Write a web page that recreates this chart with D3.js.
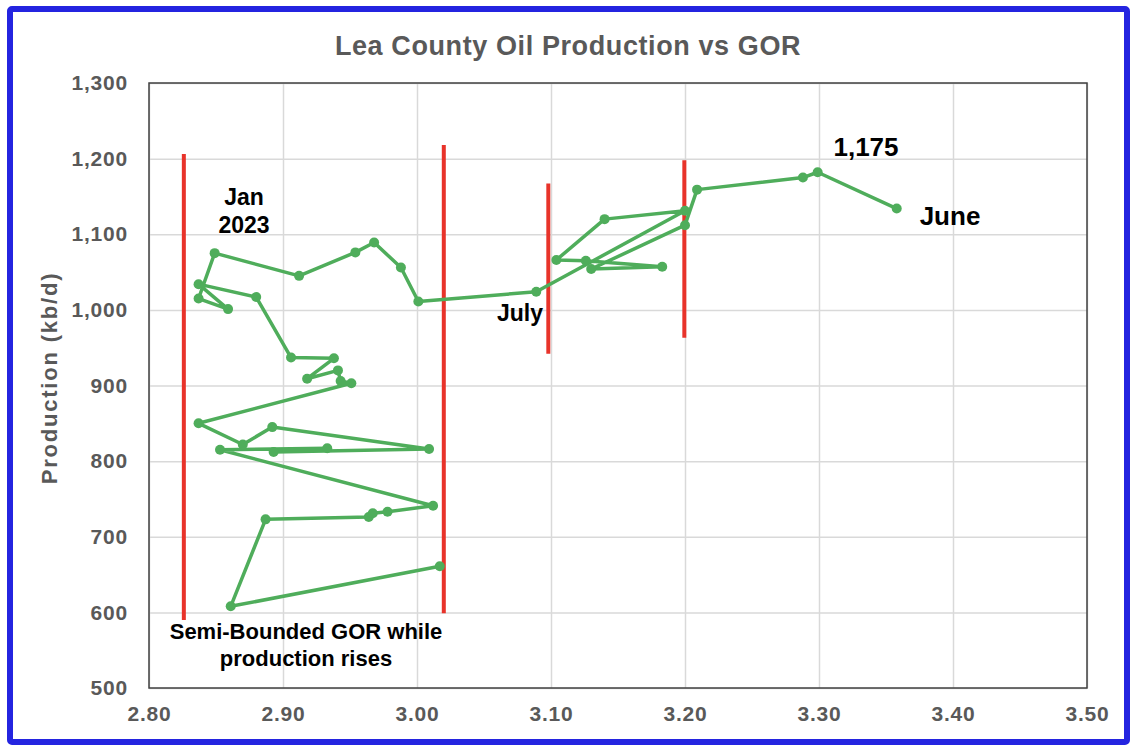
<!DOCTYPE html>
<html>
<head>
<meta charset="utf-8">
<script src="https://cdn.jsdelivr.net/npm/d3@7"></script>
<style>
  body { margin: 0; background: #fff; }
  text { font-family: "Liberation Sans", Arial, sans-serif; }
  .axis-number { font-size: 21px; font-weight: bold; fill: #595959; letter-spacing: 0.8px; }
  .note { font-weight: bold; fill: #000; }
</style>
</head>
<body>
<div id="canvas"></div>
<script>
"use strict";

/* Data, Jan 2021 .. Jun 2024 in month order */
let gor = [
  3.017, 2.861, 2.887, 2.964, 2.967, 2.978, 3.012, 2.853, 2.933, 2.893,
  3.009, 2.892, 2.870, 2.837, 2.951, 2.943, 2.941, 2.918, 2.938, 2.906,
  2.880, 2.837, 2.859, 2.837, 2.849, 2.912, 2.954, 2.968, 2.988, 3.001,
  3.089, 3.200, 3.140, 3.104, 3.126, 3.183, 3.130, 3.200, 3.209, 3.288,
  3.299, 3.358
];
let production = [
  661, 608, 723, 726, 731, 733, 741, 815, 817, 812,
  816, 845, 822, 850, 903, 906, 920, 909, 936, 937,
  1017, 1034, 1001, 1015, 1075, 1045, 1076, 1089, 1056, 1011,
  1024, 1131, 1120, 1066, 1065, 1057, 1054, 1112, 1159, 1175,
  1182, 1134
];

/* Red marker lines */
let redGor = [2.826, 3.020, 3.098, 3.1995];
let redTop = [1206, 1218, 1167, 1198];
let redBottom = [590, 599, 942, 963];

/* Tick labels */
let xTicks = [2.8, 2.9, 3.0, 3.1, 3.2, 3.3, 3.4, 3.5];
let yTicks = [500, 600, 700, 800, 900, 1000, 1100, 1200, 1300];

let svgWidth = 1136;
let svgHeight = 756;
let plot = { left: 149, right: 1087, top: 83, bottom: 688 };

let svg = d3.select("#canvas")
  .append("svg")
  .attr("width", svgWidth)
  .attr("height", svgHeight);

/* Blue frame */
svg.append("rect")
  .attr("x", 10)
  .attr("y", 9)
  .attr("width", 1117)
  .attr("height", 733)
  .attr("rx", 2)
  .attr("fill", "#fff")
  .attr("stroke", "#2424e0")
  .attr("stroke-width", 6);

/* Scales */
let xScale = d3.scaleLinear()
  .domain([2.8, 3.5])
  .range([plot.left, plot.right]);

let yScale = d3.scaleLinear()
  .domain([500, 1300])
  .range([plot.bottom, plot.top]);

/* Grid + tick labels */
let xAxis = svg.append("g")
  .attr("transform", `translate(0, ${plot.bottom})`)
  .call(d3.axisBottom(xScale)
    .tickValues(xTicks)
    .tickFormat(d3.format(".2f"))
    .tickSize(-(plot.bottom - plot.top))
    .tickPadding(18));
xAxis.select(".domain").remove();
xAxis.selectAll("line").attr("stroke", "#d9d9d9").attr("stroke-width", 1.5);
xAxis.selectAll("text").attr("class", "axis-number").attr("font-family", null).attr("font-size", null);

let yAxis = svg.append("g")
  .attr("transform", `translate(${plot.left}, 0)`)
  .call(d3.axisLeft(yScale)
    .tickValues(yTicks)
    .tickFormat(d3.format(","))
    .tickSize(-(plot.right - plot.left))
    .tickPadding(21));
yAxis.select(".domain").remove();
yAxis.selectAll("line").attr("stroke", "#d9d9d9").attr("stroke-width", 1.5);
yAxis.selectAll("text").attr("class", "axis-number").attr("font-family", null).attr("font-size", null);

/* Plot border */
svg.append("rect")
  .attr("x", plot.left)
  .attr("y", plot.top)
  .attr("width", plot.right - plot.left)
  .attr("height", plot.bottom - plot.top)
  .attr("fill", "none")
  .attr("stroke", "#404040")
  .attr("stroke-width", 1.5);

/* Red lines */
redGor.forEach((g, i) => {
  svg.append("line")
    .attr("x1", xScale(g))
    .attr("x2", xScale(g))
    .attr("y1", yScale(redTop[i]))
    .attr("y2", yScale(redBottom[i]))
    .attr("stroke", "#e8332a")
    .attr("stroke-width", 4);
});

/* Green line + dots */
let points = gor.map((g, i) => ({ x: g, y: production[i] }));

let line = d3.line()
  .x(d => xScale(d.x))
  .y(d => yScale(d.y));

svg.append("path")
  .datum(points)
  .attr("fill", "none")
  .attr("stroke", "#4fad5b")
  .attr("stroke-width", 3.5)
  .attr("stroke-linejoin", "round")
  .attr("d", line);

svg.selectAll("circle.pt")
  .data(points)
  .enter()
  .append("circle")
  .attr("class", "pt")
  .attr("cx", d => xScale(d.x))
  .attr("cy", d => yScale(d.y))
  .attr("r", 5)
  .attr("fill", "#4fad5b");

/* Title and axis label */
svg.append("text")
  .attr("x", 568)
  .attr("y", 55)
  .attr("text-anchor", "middle")
  .attr("font-size", "27px")
  .attr("font-weight", "bold")
  .attr("letter-spacing", "0.6px")
  .attr("fill", "#595959")
  .text("Lea County Oil Production vs GOR");

svg.append("text")
  .attr("transform", "translate(57, 378) rotate(-90)")
  .attr("text-anchor", "middle")
  .attr("font-size", "22px")
  .attr("font-weight", "bold")
  .attr("letter-spacing", "1.8px")
  .attr("fill", "#595959")
  .text("Production (kb/d)");

/* Annotations */
let notes = [
  { t: "Jan", x: 244, y: 205, s: 23 },
  { t: "2023", x: 244, y: 233, s: 23 },
  { t: "July", x: 520, y: 321, s: 23 },
  { t: "1,175", x: 866, y: 156, s: 26 },
  { t: "June", x: 950, y: 225, s: 26 },
  { t: "Semi-Bounded GOR while", x: 306, y: 639, s: 22 },
  { t: "production rises", x: 306, y: 666, s: 22 }
];
notes.forEach(n => {
  svg.append("text")
    .attr("x", n.x)
    .attr("y", n.y)
    .attr("text-anchor", "middle")
    .attr("font-size", n.s + "px")
    .classed("note", true)
    .text(n.t);
});
</script>
</body>
</html>
